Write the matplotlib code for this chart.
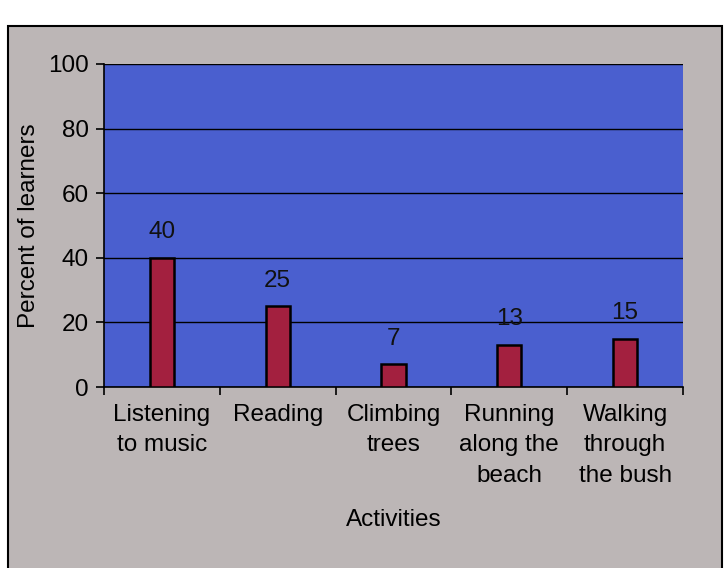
import matplotlib
matplotlib.use("Agg")
import matplotlib.pyplot as plt
from matplotlib.patches import Rectangle

categories = ["Listening\nto music", "Reading", "Climbing\ntrees", "Running\nalong the\nbeach", "Walking\nthrough\nthe bush"]
values = [40, 25, 7, 13, 15]
yticks = [0, 20, 40, 60, 80, 100]

plt.rcParams['font.family'] = ['Liberation Sans', 'DejaVu Sans']

fig = plt.figure(figsize=(7.28, 5.68), dpi=100)
fig.patch.set_facecolor("white")

# gray chart frame
frame = Rectangle((8 / 728, -0.02), 714 / 728, 1 - 26 / 568 + 0.02, transform=fig.transFigure,
                  facecolor="#bcb6b6", edgecolor="black", linewidth=1.5, zorder=-10)
fig.patches.append(frame)

ax = fig.add_axes([104 / 728, 1 - 387 / 568, 579 / 728, 323 / 568])
ax.set_zorder(5)
ax.set_facecolor("#4a5fcf")
x = list(range(len(categories)))
bars = ax.bar(x, values, width=0.21, color="#a3203f", edgecolor="black", linewidth=1.8, zorder=3)
for xi, v in zip(x, values):
    ax.text(xi, v + 4.5, str(v), ha="center", va="bottom", fontsize=17.5, color="#111111")

ax.set_xlim(-0.5, len(categories) - 0.5)
ax.set_ylim(0, 100)
ax.set_yticks(yticks)
ax.set_yticklabels([str(t) for t in yticks], fontsize=17.5)
ax.yaxis.grid(True, color="black", linewidth=1.0)
ax.set_axisbelow(True)
ax.set_xticks([i - 0.5 for i in range(len(categories) + 1)])
ax.set_xticklabels([])
ax.set_xticks(x, minor=True)
ax.set_xticklabels(categories, minor=True, fontsize=17.5, linespacing=1.5, va="top")
ax.tick_params(axis="x", which="minor", length=0, pad=12)
ax.tick_params(axis="x", which="major", length=6, width=1.2, direction="out")
ax.tick_params(axis="y", length=6, width=1.2, direction="out", pad=5)
for s in ["top", "right"]:
    ax.spines[s].set_visible(False)
ax.spines["left"].set_linewidth(1.2)
ax.spines["bottom"].set_linewidth(1.2)
ax.set_ylabel("Percent of learners", fontsize=17.5, labelpad=6)
ax.set_xlabel("Activities", fontsize=17.5, labelpad=16)

fig.savefig("out.png", dpi=100)
